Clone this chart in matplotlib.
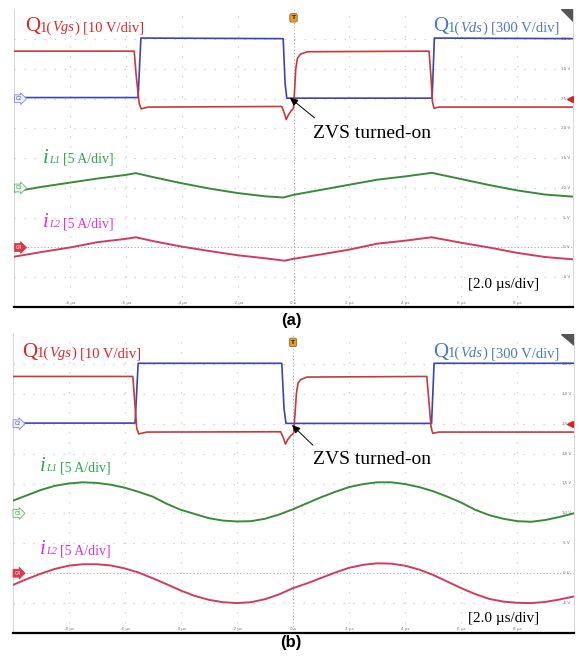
import matplotlib
matplotlib.use("Agg")
import matplotlib.pyplot as plt
from matplotlib.patches import Polygon

W, H = 579, 657

# ---- scope readings (time in us, level in V on the screen scale) ----
# panel (a): triangular inductor currents
vgs_t_a = [-10, -5.70, -5.62, -5.52, -5.45, -5.2, -0.42, -0.33, -0.26, -0.18, -0.08, 0.0, 0.04, 0.08, 0.14, 0.25, 0.5, 4.85, 4.92, 4.97, 5.03, 5.2, 10]
vgs_v_a = [33.0, 33.0, 28.5, 24.2, 23.3, 23.6, 23.7, 22.6, 21.5, 22.3, 23.0, 23.4, 26.5, 30.0, 31.8, 32.5, 32.9, 33.0, 28.5, 24.5, 23.4, 23.6, 23.6]
vds_t_a = [-10, -5.56, -5.46, -0.37, -0.30, -0.24, 4.96, 5.04, 10]
vds_v_a = [25.2, 25.2, 35.2, 35.1, 27.5, 25.1, 25.1, 35.2, 35.1]
il1_t_a = [-10, -9, -8, -7, -6, -5.64, -5, -4, -3, -2, -1, -0.36, 0, 1, 2, 3, 4, 4.95, 6, 7, 8, 9, 10]
il1_v_a = [9.4, 10.2, 10.9, 11.6, 12.2, 12.5, 11.8, 10.8, 9.9, 9.15, 8.6, 8.4, 8.85, 9.7, 10.55, 11.4, 11.95, 12.55, 11.5, 10.5, 9.6, 8.9, 8.55]
il2_t_a = [-10, -9, -8, -7, -6, -5.64, -5, -4, -3, -2, -1, -0.32, 0, 1, 2, 3, 4, 4.94, 6, 7, 8, 9, 10]
il2_v_a = [-1.55, -0.75, 0.0, 0.9, 1.45, 1.72, 1.05, 0.15, -0.6, -1.3, -1.82, -2.22, -1.9, -1.15, -0.35, 0.65, 1.15, 1.72, 0.8, 0.0, -0.9, -1.6, -1.99]

# panel (b): sinusoidal inductor currents
vgs_t_b = [-10, -5.71, -5.64, -5.57, -5.50, -5.2, -0.44, -0.34, -0.27, -0.18, -0.08, 0.02, 0.07, 0.12, 0.18, 0.28, 0.5, 4.77, 4.85, 4.92, 4.98, 5.2, 10]
vgs_v_b = [32.9, 32.9, 28.5, 24.2, 23.3, 23.6, 23.65, 22.6, 21.6, 22.4, 23.0, 23.4, 26.5, 30.0, 31.8, 32.4, 32.8, 32.9, 28.5, 24.5, 23.4, 23.6, 23.6]
vds_t_b = [-10, -5.63, -5.52, -0.40, -0.32, -0.25, 4.94, 5.03, 10]
vds_v_b = [25.1, 25.1, 35.1, 35.1, 27.5, 25.05, 25.05, 35.1, 35.1]
sin_t_b = [-10, -9.5, -9, -8.5, -8, -7.5, -7, -6.5, -6, -5.5, -5, -4.5, -4, -3.5, -3, -2.5, -2, -1.5, -1, -0.5,
           0, 0.5, 1, 1.5, 2, 2.5, 3, 3.5, 4, 4.5, 5, 5.5, 6, 6.5, 7, 7.5, 8, 8.5, 9, 9.5, 10]
il1_v_b = [12.1, 13.0, 13.9, 14.6, 15.0, 15.2, 15.1, 14.8, 14.3, 13.6, 12.8, 11.6, 10.6, 9.9, 9.2, 8.8, 8.65, 8.7, 9.1, 9.8,
           10.7, 11.7, 12.7, 13.6, 14.4, 14.9, 15.2, 15.2, 14.9, 14.4, 13.7, 12.8, 11.8, 10.6, 9.7, 9.1, 8.7, 8.6, 8.9, 9.4, 10.0]
il2_v_b = [-2.0, -1.0, -0.1, 0.7, 1.25, 1.5, 1.5, 1.3, 0.8, 0.1, -0.85, -1.85, -2.9, -3.8, -4.45, -4.85, -5.0, -4.85, -4.35, -3.55,
           -2.5, -1.7, -0.8, 0.1, 0.9, 1.4, 1.65, 1.6, 1.25, 0.6, -0.3, -1.4, -2.5, -3.5, -4.3, -4.75, -4.95, -5.0, -4.8, -4.4, -3.9]

time_ticks = [-8, -6, -4, -2, 0, 2, 4, 6, 8]
time_labels = ["-8 µs", "-6 µs", "-4 µs", "-2 µs", "0 s", "2 µs", "4 µs", "6 µs", "8 µs"]
volt_ticks = [35, 30, 25, 20, 15, 10, 5, 0, -5]
volt_labels = ["35 V", "30 V", "25 V", "20 V", "15 V", "10 V", "5 V", "0 V", "-5 V"]

c_vgs, c_vds, c_il1, c_il2 = "#c83a3a", "#3a44b4", "#3a8a3a", "#d23c5c"
lab_vgs, lab_vds, lab_il1, lab_il2 = "#e02424", "#4a78c8", "#2fa850", "#e032d2"
serif = "Liberation Serif"

fig = plt.figure(figsize=(W / 100, H / 100), dpi=100)
fig.patch.set_facecolor("white")


def scope_axes(left, top, right, bottom):
    ax = fig.add_axes([left / W, 1 - bottom / H, (right - left) / W, (bottom - top) / H])
    ax.set_xlim(-10, 10)
    ax.set_ylim(-10, 40)
    ax.set_xticks([])
    ax.set_yticks([])
    for s in ["top", "right", "left"]:
        ax.spines[s].set_color("#d0d0d0")
        ax.spines[s].set_linewidth(0.6)
    ax.spines["top"].set_visible(False)
    ax.spines["bottom"].set_color("black")
    ax.spines["bottom"].set_linewidth(1.6)
    for t in range(-8, 10, 2):
        if t != 0:
            ax.axvline(t, color="#c8c8c8", lw=0.9, ls=(0, (1, 7)), zorder=0)
    for v in range(-5, 40, 5):
        if v != 0:
            ax.axhline(v, color="#c8c8c8", lw=0.9, ls=(0, (1, 7)), zorder=0)
    ax.axvline(0, color="#a8a8a8", lw=0.8, ls=(0, (1, 2)), zorder=0)
    ax.axhline(0, color="#a8a8a8", lw=0.8, ls=(0, (1, 2)), zorder=0)
    for t, s in zip(time_ticks, time_labels):
        ax.text(t, -9.3, s, fontsize=3, color="#777777", ha="center", va="center")
    for v, s in zip(volt_ticks, volt_labels):
        ax.text(9.75, v, s, fontsize=3, color="#777777", ha="center", va="center")
    ax.plot([9.88], [25], marker="<", ms=4.5, color="#e02020", zorder=6)
    # channel markers on the left
    ax.text(-9.93, 25, "C2", fontsize=3.4, color=c_vds, ha="left", va="center", zorder=6,
            bbox=dict(boxstyle="rarrow,pad=0.3", fc="#eef0ff", ec="#8088d8", lw=0.6))
    ax.text(-9.93, 10, "C3", fontsize=3.4, color=c_il1, ha="left", va="center", zorder=6,
            bbox=dict(boxstyle="rarrow,pad=0.3", fc="#effaef", ec="#70b070", lw=0.6))
    ax.text(-9.93, 0, "C4", fontsize=3.4, color="white", ha="left", va="center", zorder=6,
            bbox=dict(boxstyle="rarrow,pad=0.3", fc="#d83a4a", ec="#d83a4a", lw=0.6))
    # trigger marker and corner flag
    ax.text(0, 38.6, "T", fontsize=4.2, color="#402000", fontweight="bold", ha="center", va="center", zorder=6,
            bbox=dict(boxstyle="round,pad=0.3", fc="#e0a030", ec="#8a6020", lw=0.5))
    ax.add_patch(Polygon([(0.978, 1.0), (1.0, 1.0), (1.0, 0.962)], closed=True,
                         transform=ax.transAxes, color="#555555", zorder=6))
    return ax


ax_a = scope_axes(14, 9.5, 573, 307)
ax_b = scope_axes(12.5, 334, 573.5, 633)

for ax, vt, vv, dt, dv in [(ax_a, vgs_t_a, vgs_v_a, vds_t_a, vds_v_a), (ax_b, vgs_t_b, vgs_v_b, vds_t_b, vds_v_b)]:
    ax.plot(dt, dv, color=c_vds, lw=1.2, zorder=3)
    ax.plot(vt, vv, color=c_vgs, lw=1.2, zorder=4)

ax_a.plot(il1_t_a, il1_v_a, color=c_il1, lw=1.4, zorder=3)
ax_a.plot(il2_t_a, il2_v_a, color=c_il2, lw=1.4, zorder=3)
ax_b.plot(sin_t_b, il1_v_b, color=c_il1, lw=1.4, zorder=3)
ax_b.plot(sin_t_b, il2_v_b, color=c_il2, lw=1.4, zorder=3)

# ZVS arrows
ax_a.annotate("", xy=(-0.14, 25.2), xytext=(0.75, 21.8),
              arrowprops=dict(arrowstyle="-|>,head_length=0.5,head_width=0.22", color="black", lw=0.7, shrinkA=0, shrinkB=0), zorder=7)
ax_b.annotate("", xy=(-0.04, 24.8), xytext=(0.71, 21.4),
              arrowprops=dict(arrowstyle="-|>,head_length=0.5,head_width=0.22", color="black", lw=0.7, shrinkA=0, shrinkB=0), zorder=7)

renderer = fig.canvas.get_renderer()


def rich(x, y, parts):
    # parts: (text, size, style, color, gap after)
    for s, size, style, color, gap in parts:
        t = fig.text(x / W, 1 - y / H, s, fontsize=size, style=style, color=color,
                     family=serif, ha="left", va="baseline")
        x += t.get_window_extent(renderer).width + gap


def q_label(x, y, sub, scale, color):
    rich(x, y, [("Q", 15, "normal", color, 0), ("1(", 10.5, "normal", color, 0),
                (sub, 10.5, "italic", color, 0), (")", 10.5, "normal", color, 3.5),
                (scale, 10.5, "normal", color, 0)])


def i_label(x, y, sub, color):
    rich(x, y, [("i", 15, "italic", color, 0.5), (sub, 7.5, "italic", color, 3),
                ("[5 A/div]", 10, "normal", color, 0)])


for dy, xq, xi in [(0, 25, 43), (325.5, 22, 40)]:
    q_label(xq, 31.5 + dy, "Vgs", "[10 V/div]", lab_vgs)
    q_label(433, 31.5 + dy, "Vds", "[300 V/div]", lab_vds)
    fig.text(313 / W, 1 - (138 + dy) / H, "ZVS turned-on", fontsize=14, family=serif, color="black", va="baseline")
    fig.text(468 / W, 1 - (288 + dy * 1.027) / H, "[2.0 µs/div]", fontsize=11, family=serif, color="black", va="baseline")

i_label(43, 163, "L1", lab_il1)
i_label(43, 227.5, "L2", lab_il2)
i_label(40, 471, "L1", lab_il1)
i_label(40, 554.5, "L2", lab_il2)

fig.text(291 / W, 1 - 320 / H, "(a)", fontsize=12, fontweight="bold", family="Liberation Sans", ha="center", va="center")
fig.text(291 / W, 1 - 642 / H, "(b)", fontsize=12, fontweight="bold", family="Liberation Sans", ha="center", va="center")

fig.savefig("out.png", dpi=100)
